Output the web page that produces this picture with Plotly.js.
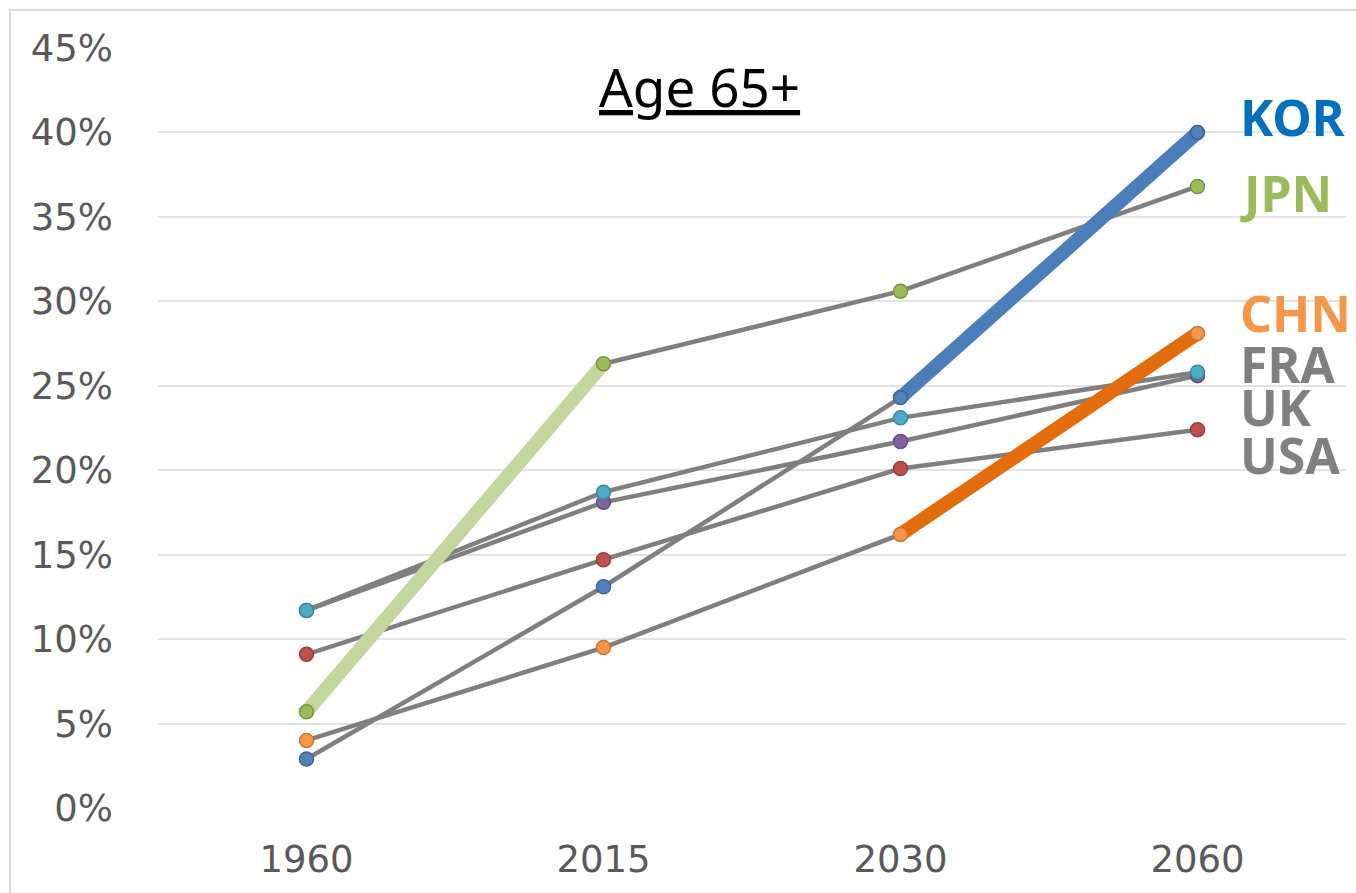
<!DOCTYPE html>
<html>
<head>
<meta charset="utf-8">
<script src="https://cdn.plot.ly/plotly-3.0.1.min.js"></script>
<style>
html,body{margin:0;padding:0;background:#fff;}
#frame{position:absolute;left:9px;top:9px;width:1400px;height:900px;border-left:2px solid #d9d9d9;border-top:2px solid #d9d9d9;}
#chart{position:absolute;left:0;top:0;width:1356px;height:893px;}
</style>
</head>
<body>
<div id="frame"></div>
<div id="chart"></div>
<script>
const years = ['1960', '2015', '2030', '2060'];
const countries = ['KOR', 'JPN', 'CHN', 'FRA', 'UK', 'USA'];
const KOR = [2.9, 13.1, 24.3, 40.0];
const JPN = [5.7, 26.3, 30.6, 36.8];
const CHN = [4.0, 9.5, 16.2, 28.1];
const FRA = [11.7, 18.7, 23.1, 25.8];
const UK  = [11.7, 18.1, 21.7, 25.6];
const USA = [9.1, 14.7, 20.1, 22.4];
const yTicks = [0, 5, 10, 15, 20, 25, 30, 35, 40, 45];
const yTickText = ['0%', '5%', '10%', '15%', '20%', '25%', '30%', '35%', '40%', '45%'];

const seriesVals = {KOR, JPN, CHN, FRA, UK, USA};
const markerColors = {KOR: '#4F81BD', JPN: '#9BBB59', CHN: '#F79646', FRA: '#4BACC6', UK: '#8064A2', USA: '#C0504D'};
const markerLines = {KOR: '#3A6597', JPN: '#7A9442', CHN: '#C97834', FRA: '#3A8A9F', UK: '#634D80', USA: '#983E3B'};
const labelColors = {KOR: '#0070C0', JPN: '#9BBB59', CHN: '#F79646', FRA: '#808080', UK: '#808080', USA: '#808080'};

const traces = [];
// gray connecting lines
for (const c of countries) {
  traces.push({x: years, y: seriesVals[c], type: 'scatter', mode: 'lines',
    line: {color: '#7F7F7F', width: 4.5}, hoverinfo: 'skip', showlegend: false});
}
// highlighted segments
const highlights = [
  {c: 'JPN', from: 0, to: 1, color: '#C3D69B'},
  {c: 'KOR', from: 2, to: 3, color: '#4A7EBB'},
  {c: 'CHN', from: 2, to: 3, color: '#E46C0A'}
];
for (const h of highlights) {
  traces.push({x: years.slice(h.from, h.to + 1), y: seriesVals[h.c].slice(h.from, h.to + 1),
    type: 'scatter', mode: 'lines', line: {color: h.color, width: 14}, showlegend: false, hoverinfo: 'skip'});
}
// markers
for (const c of countries.slice().reverse()) {
  traces.push({x: years, y: seriesVals[c], type: 'scatter', mode: 'markers', name: c,
    marker: {size: 14, color: markerColors[c], line: {color: markerLines[c], width: 1.5}}, showlegend: false});
}

const labelY = {KOR: 117, JPN: 193, CHN: 313, FRA: 364, UK: 407, USA: 455};
const plotTop = 48, plotBottom = 808;
const annotations = countries.map(c => ({
  text: '<b>' + c + '</b>', xref: 'paper', yref: 'paper',
  x: (1238 - 158) / 1188, y: (plotBottom - labelY[c]) / (plotBottom - plotTop),
  xanchor: 'left', yanchor: 'middle', showarrow: false,
  font: {family: 'Noto Sans, sans-serif', size: 50, color: labelColors[c]}
}));
annotations.push({
  text: '<u>Age 65+</u>', xref: 'paper', yref: 'paper',
  x: (699 - 158) / 1188, y: (plotBottom - 86) / (plotBottom - plotTop),
  xanchor: 'center', yanchor: 'middle', showarrow: false,
  font: {family: 'Noto Sans, sans-serif', size: 53, color: '#000000'}
});

const layout = {
  width: 1356, height: 893,
  margin: {l: 158, r: 10, t: 48, b: 85},
  paper_bgcolor: 'rgba(0,0,0,0)', plot_bgcolor: 'rgba(0,0,0,0)',
  showlegend: false,
  xaxis: {type: 'category', range: [-0.5, 3.5], showgrid: false, zeroline: false, showline: false,
    ticks: '', ticklabelstandoff: 26,
    tickfont: {family: 'DejaVu Sans, sans-serif', size: 37, color: '#595959'}},
  yaxis: {range: [0, 45], tickvals: yTicks, ticktext: yTickText, showgrid: true, gridcolor: '#e3e3e3', gridwidth: 2,
    zeroline: false, showline: false, ticks: '', ticklabelstandoff: 44,
    tickfont: {family: 'DejaVu Sans, sans-serif', size: 37, color: '#595959'}},
  annotations: annotations
};

Plotly.newPlot('chart', traces, layout, {displayModeBar: false, staticPlot: true});
</script>
</body>
</html>
